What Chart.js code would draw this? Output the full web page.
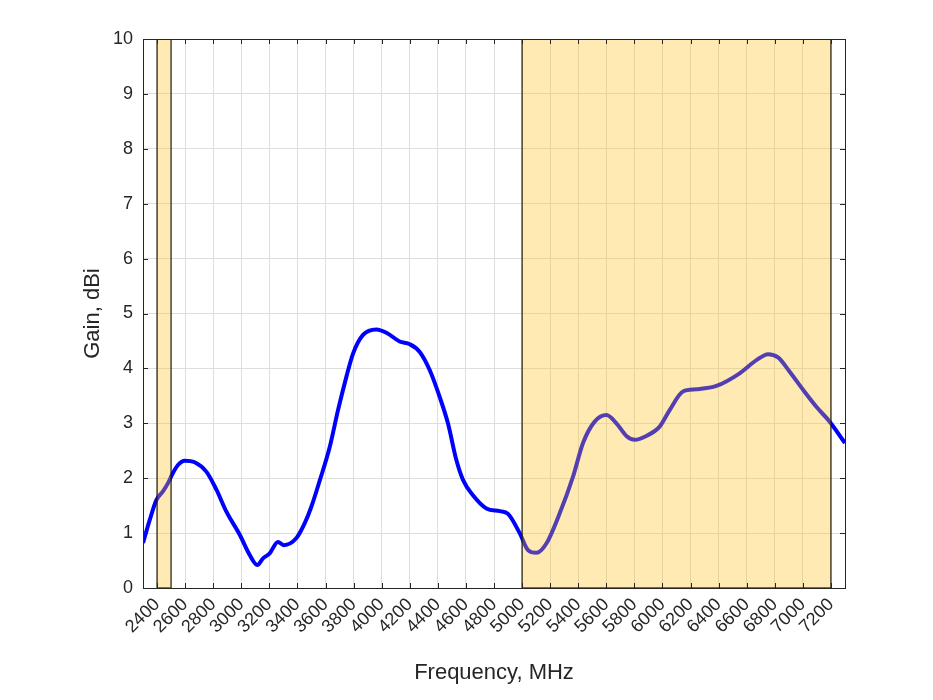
<!DOCTYPE html>
<html>
<head>
<meta charset="utf-8">
<script src="https://cdn.jsdelivr.net/npm/chart.js@4.4.1/dist/chart.umd.min.js"></script>
<style>
  html, body { margin: 0; padding: 0; background: #fff; }
  #wrap { width: 933px; height: 700px; }
</style>
</head>
<body>
<div id="wrap"><canvas id="gainChart" width="933" height="700"></canvas></div>
<script>
var freqMHz = [2300, 2348, 2395, 2442, 2480, 2510, 2549, 2597, 2668, 2751, 2823, 2894, 2989,
    3060, 3114, 3155, 3202, 3261, 3302, 3393, 3452, 3499, 3558, 3630, 3689, 3749, 3796, 3867,
    3962, 4034, 4128, 4200, 4271, 4342, 4413, 4472, 4532, 4579, 4650, 4746, 4841, 4900, 4983,
    5042, 5102, 5173, 5268, 5363, 5434, 5517, 5601, 5672, 5743, 5802, 5885, 5980, 6051, 6146,
    6242, 6384, 6550, 6669, 6752, 6823, 6906, 7001, 7096, 7191, 7300];
var gainDbi = [0.82, 1.24, 1.60, 1.76, 1.92, 2.08, 2.24, 2.32, 2.29, 2.12, 1.79, 1.39, 0.97,
    0.60, 0.42, 0.54, 0.63, 0.84, 0.78, 0.91, 1.18, 1.48, 1.95, 2.57, 3.24, 3.85, 4.27, 4.61,
    4.71, 4.65, 4.49, 4.44, 4.30, 3.97, 3.48, 3.00, 2.33, 1.97, 1.69, 1.45, 1.40, 1.35, 1.00,
    0.69, 0.64, 0.81, 1.36, 2.03, 2.64, 3.03, 3.15, 3.00, 2.77, 2.70, 2.77, 2.94, 3.24, 3.58,
    3.62, 3.68, 3.91, 4.15, 4.26, 4.20, 3.94, 3.61, 3.30, 3.03, 2.64];

// Highlighted frequency bands
var bandStart = [2400, 5000];
var bandEnd = [2500, 7200];

// Axis ticks
var xTicks = [2400, 2600, 2800, 3000, 3200, 3400, 3600, 3800, 4000, 4200, 4400, 4600, 4800,
    5000, 5200, 5400, 5600, 5800, 6000, 6200, 6400, 6600, 6800, 7000, 7200];
var yTicks = [0, 1, 2, 3, 4, 5, 6, 7, 8, 9, 10];

var textColor = '#262626';
var fontFamily = '"Liberation Sans", Arial, Helvetica, sans-serif';

// Bands drawn over the curve (semi transparent), then box + inward ticks
var bandsAndBox = {
    id: 'bandsAndBox',
    afterDatasetsDraw: function(chart) {
        var ctx = chart.ctx;
        var area = chart.chartArea;
        var x = chart.scales.x;
        ctx.save();
        ctx.beginPath();
        ctx.rect(area.left, area.top, area.right - area.left, area.bottom - area.top);
        ctx.clip();
        for (var i = 0; i < bandStart.length; i++) {
            var x0 = x.getPixelForValue(bandStart[i]);
            var x1 = x.getPixelForValue(bandEnd[i]);
            ctx.fillStyle = 'rgba(252, 190, 20, 0.33)';
            ctx.fillRect(x0, area.top, x1 - x0, area.bottom - area.top);
            ctx.strokeStyle = 'rgba(30, 25, 10, 0.8)';
            ctx.lineWidth = 1.5;
            ctx.strokeRect(x0, area.top, x1 - x0, area.bottom - area.top);
        }
        ctx.restore();
    },
    afterDraw: function(chart) {
        var ctx = chart.ctx;
        var area = chart.chartArea;
        var x = chart.scales.x, y = chart.scales.y;
        var len = 5;
        ctx.save();
        ctx.strokeStyle = textColor;
        ctx.lineWidth = 1;
        ctx.beginPath();
        xTicks.forEach(function(v) {
            var px = Math.round(x.getPixelForValue(v)) + 0.5;
            ctx.moveTo(px, area.bottom); ctx.lineTo(px, area.bottom - len);
            ctx.moveTo(px, area.top); ctx.lineTo(px, area.top + len);
        });
        yTicks.forEach(function(v) {
            var py = Math.round(y.getPixelForValue(v)) + 0.5;
            ctx.moveTo(area.left, py); ctx.lineTo(area.left + len, py);
            ctx.moveTo(area.right, py); ctx.lineTo(area.right - len, py);
        });
        ctx.stroke();
        ctx.strokeRect(Math.round(area.left) + 0.5, Math.round(area.top) + 0.5,
            Math.round(area.right - area.left), Math.round(area.bottom - area.top));
        ctx.restore();
    }
};

new Chart(document.getElementById('gainChart'), {
    type: 'line',
    data: {
        datasets: [{
            label: 'Gain',
            data: freqMHz.map(function(f, i) { return {x: f, y: gainDbi[i]}; }),
            borderColor: '#0000ff',
            borderWidth: 4,
            pointRadius: 0,
            cubicInterpolationMode: 'monotone',
            fill: false
        }]
    },
    options: {
        responsive: false,
        animation: false,
        layout: { padding: { left: 0, top: 39, right: 88, bottom: 0 } },
        plugins: { legend: { display: false }, tooltip: { enabled: false } },
        scales: {
            x: {
                type: 'linear',
                min: 2300,
                max: 7300,
                afterBuildTicks: function(scale) {
                    scale.ticks = xTicks.map(function(v) { return {value: v}; });
                },
                afterFit: function(scale) { scale.height = 112; },
                grid: { color: '#dedede', drawTicks: false },
                border: { display: false },
                ticks: {
                    autoSkip: false,
                    maxRotation: 45,
                    minRotation: 45,
                    padding: 6,
                    color: textColor,
                    font: { family: fontFamily, size: 18 },
                    callback: function(v) { return String(v); }
                },
                title: {
                    display: true,
                    text: 'Frequency, MHz',
                    color: textColor,
                    font: { family: fontFamily, size: 22 },
                    padding: { top: 4, bottom: 14 }
                }
            },
            y: {
                min: 0,
                max: 10,
                afterBuildTicks: function(scale) {
                    scale.ticks = yTicks.map(function(v) { return {value: v}; });
                },
                afterFit: function(scale) { scale.width = 143; },
                grid: { color: '#dedede', drawTicks: false },
                border: { display: false },
                ticks: {
                    padding: 10,
                    color: textColor,
                    font: { family: fontFamily, size: 18 },
                    callback: function(v) { return String(v); }
                },
                title: {
                    display: true,
                    text: 'Gain, dBi',
                    color: textColor,
                    font: { family: fontFamily, size: 22 },
                    padding: { top: 80, bottom: 0 }
                }
            }
        }
    },
    plugins: [bandsAndBox]
});
</script>
</body>
</html>
